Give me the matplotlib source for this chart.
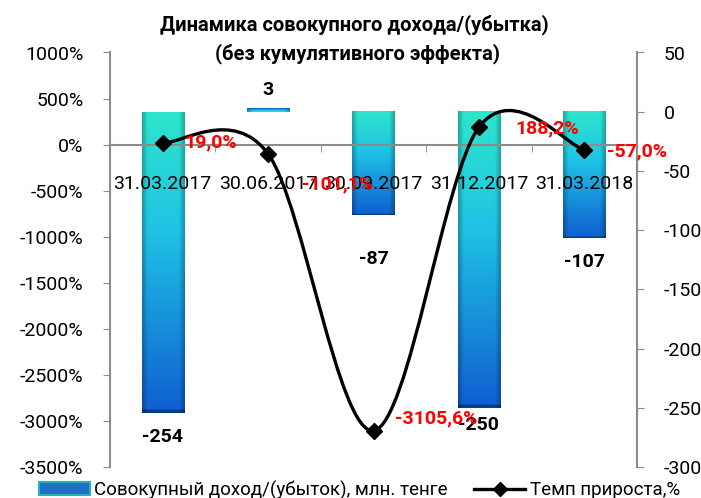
import numpy as np
import matplotlib
matplotlib.use('Agg')
import matplotlib.pyplot as plt
from matplotlib.path import Path
from matplotlib.patches import PathPatch, Patch
from matplotlib.lines import Line2D

# ------------------- data ------------------- #
dates = ['31.03.2017', '30.06.2017', '30.09.2017', '31.12.2017', '31.03.2018']
income = [-254, 3, -87, -250, -107]               # млн. тенге (right axis)
growth = [19.0, -101.1, -3105.6, 188.2, -57.0]    # % (left axis)
growth_labels = ['19,0%', '-101,1%', '-3105,6%', '188,2%', '-57,0%']

left_ticks = list(range(-3500, 1001, 500))
right_ticks = list(range(-300, 51, 50))

plt.rcParams['font.family'] = ['Roboto', 'DejaVu Sans']

GRAY = '#8c8c8c'
TOP = np.array([0.18, 0.90, 0.80])
MID = np.array([0.12, 0.76, 0.90])
BOT = np.array([0.06, 0.37, 0.82])


def bar_gradient(h=256, w=32):
    img = np.zeros((h, w, 3))
    for i in range(h):
        tt = i / (h - 1)
        if tt < 0.4:
            c = TOP + (MID - TOP) * tt / 0.4
        else:
            c = MID + (BOT - MID) * (tt - 0.4) / 0.6
        img[i, :, :] = c
    # darker side edges for a bevelled look
    xs = np.linspace(-1, 1, w)
    shade = 1 - 0.25 * np.clip(np.abs(xs) - 0.75, 0, None) / 0.25
    img = img * shade[None, :, None]
    img[-3:, :, :] *= 0.65
    return np.clip(img, 0, 1)


fig = plt.figure(figsize=(7.01, 4.98), dpi=100)
ax = fig.add_axes([110 / 701, 1 - 467 / 498, 527 / 701, 414.5 / 498])
ax2 = ax.twinx()
ax.set_zorder(ax2.get_zorder() + 1)
ax.patch.set_visible(False)

x = np.arange(len(dates))

# bars on the secondary axis
bars = ax2.bar(x, income, width=0.4, color='none', edgecolor='none')
grad = bar_gradient()
for b in bars:
    x0, w = b.get_x(), b.get_width()
    y0, h = b.get_y(), b.get_height()
    top, bot = max(y0, y0 + h), min(y0, y0 + h)
    g = grad if h < 0 else grad[::-1]
    ax2.imshow(g, extent=[x0, x0 + w, bot, top], aspect='auto', origin='upper', zorder=2)

bar_offsets = [24, -18, 44, 17, 24]
for xi, v, off in zip(x, income, bar_offsets):
    ax2.annotate(str(v), (xi, v), xytext=(0, -off), textcoords='offset pixels',
                 ha='center', va='center', fontsize=14, fontweight='bold', color='black', zorder=5)

# smoothed line (Excel-like Catmull-Rom bezier)
pts = np.column_stack([x, growth]).astype(float)
n = len(pts)
verts = [pts[0]]
codes = [Path.MOVETO]
for i in range(n - 1):
    p0, p1 = pts[max(i - 1, 0)], pts[i]
    p2, p3 = pts[i + 1], pts[min(i + 2, n - 1)]
    verts += [p1 + (p2 - p0) / 6, p2 - (p3 - p1) / 6, p2]
    codes += [Path.CURVE4] * 3
ax.add_patch(PathPatch(Path(verts, codes), facecolor='none', edgecolor='black', lw=2.4, zorder=3))
ax.plot(x, growth, linestyle='none', marker='D', color='black', markersize=8, zorder=4)

label_offsets = [(22, 0), (34, -31), (22, 12), (36, -1), (23, -2)]
for xi, v, txt, (dx, dy) in zip(x, growth, growth_labels, label_offsets):
    ax.annotate(txt, (xi, v), xytext=(dx, dy), textcoords='offset pixels',
                ha='left', va='center', fontsize=14, fontweight='bold', color='#ff0000', zorder=6)

# axes
ax.set_xlim(-0.5, n - 0.5)
ax.set_ylim(-3500, 1000)
ax2.set_ylim(-300, 50)
ax2.set_xlim(-0.5, n - 0.5)

ax.set_yticks(left_ticks)
ax.set_yticklabels([f'{v}%' for v in left_ticks])
ax2.set_yticks(right_ticks)
ax2.set_yticklabels([str(v) for v in right_ticks])

ax.set_xticks(x)
ax.set_xticklabels(dates)
ax.set_xticks(np.arange(-0.5, n, 1.0), minor=True)
ax.tick_params(axis='x', which='major', length=0, pad=22, labelsize=14)
ax.tick_params(axis='x', which='minor', length=5, color=GRAY, direction='out')
ax.tick_params(axis='y', length=5, color=GRAY, labelsize=14, pad=14)
ax2.tick_params(axis='y', length=5, color=GRAY, labelsize=14, pad=14)

ax.spines['bottom'].set_position(('data', 0))
for s in ['top', 'right']:
    ax.spines[s].set_visible(False)
for s in ['top', 'bottom', 'left']:
    ax2.spines[s].set_visible(False)
ax.spines['left'].set_color(GRAY)
ax.spines['bottom'].set_color(GRAY)
ax2.spines['right'].set_color(GRAY)
for s in [ax.spines['left'], ax.spines['bottom'], ax2.spines['right']]:
    s.set_linewidth(1.5)

fig.text(0.505, 1 - 25 / 498, 'Динамика совокупного дохода/(убытка)', ha='center', va='center',
         fontsize=14.5, fontweight='bold')
fig.text(0.51, 1 - 54 / 498, '(без кумулятивного эффекта)', ha='center', va='center',
         fontsize=14.5, fontweight='bold')

handles = [Patch(facecolor='#1c6fc2', edgecolor='#25b3b3', linewidth=1.5),
           Line2D([], [], color='black', lw=2.4, marker='D', markersize=7)]
fig.legend(handles, ['Совокупный доход/(убыток), млн. тенге', 'Темп прироста,%'],
           loc='center left', bbox_to_anchor=(39 / 701, 1 - 490 / 498), ncol=2, frameon=False,
           fontsize=13.5, handlelength=2.7, handletextpad=0.26, columnspacing=1.4,
           borderpad=0, borderaxespad=0)

fig.savefig('out.png', dpi=100)
